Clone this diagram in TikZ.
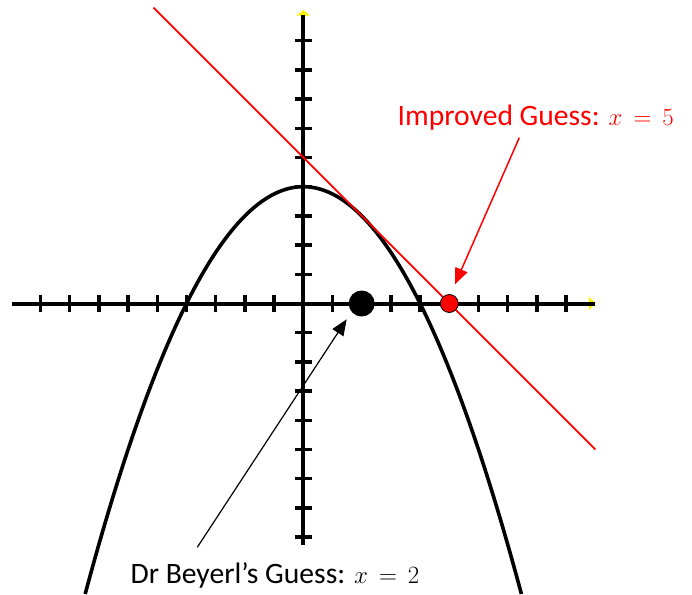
\documentclass[tikz,border=0pt]{standalone}
\usepackage{fontspec}
\setmainfont{Carlito}
\usetikzlibrary{arrows.meta}
\tikzset{
  axisline/.style={line width=4pt, black},
  tickmark/.style={line width=3.3pt, black},
  curveline/.style={line width=3.6pt, black},
  tangentline/.style={line width=1.8pt, red},
  tipmark/.style={fill=yellow, draw=none},
  labeltext/.style={inner sep=0pt, anchor=base west, font=\fontsize{29.6}{35}\selectfont},
  callout/.style={-{Triangle[length=16pt,width=13pt]}},
}
\begin{document}
\begin{tikzpicture}[x=29.2pt,y=29.2pt]
\useasboundingbox (-10.387,-9.949) rectangle (13.312,10.394);
% yellow arrow tips of the axes
\fill[tipmark] (9.78,0.23) -- (10.01,0) -- (9.78,-0.23) -- cycle;
\fill[tipmark] (-0.23,9.86) -- (0,10.05) -- (0.23,9.86) -- cycle;
% axes
\coordinate (xl) at (-9.98,0);
\coordinate (xr) at (10.0,0);
\coordinate (yb) at (0,-8.27);
\coordinate (yt) at (0,9.88);
\draw[axisline] (xl) -- (xr);
\draw[axisline] (yb) -- (yt);
% ticks
\foreach \i in {-9,...,-1,1,2,...,9}
  \draw[tickmark] (\i,-0.3) -- (\i,0.3);
\foreach \j in {-8,...,-1,1,2,...,9}
  \draw[tickmark] (-0.3,\j) -- (0.3,\j);
% parabola y = 4 - x^2/4
\draw[curveline] plot[domain=-7.47:7.47, samples=200, smooth] (\x,{4-\x*\x/4});
% tangent line y = 5 - x
\coordinate (ta) at (-5.13,10.13);
\coordinate (tb) at (10.0,-5.0);
\draw[tangentline] (ta) -- (tb);
% guesses
\node[circle, fill=black, minimum size=26pt, inner sep=0pt] (g1) at (2,0) {};
\node[circle, fill=red, draw=black, line width=0.8pt, minimum size=18pt, inner sep=0pt] (g2) at (5,0) {};
% labels
\node[labeltext, text=red] (lab2) at (3.226,6.113) {Improved Guess: $x\mkern3mu=\mkern3mu5$};
\node[labeltext, text=black] (lab1) at (-5.921,-9.582) {Dr Beyerl’s Guess: $x\mkern3mu=\mkern3mu2$};
% callout arrows
\coordinate (a2s) at (7.397,5.678);
\coordinate (a2e) at (5.195,0.658);
\coordinate (a1s) at (-3.630,-8.349);
\coordinate (a1e) at (1.486,-0.541);
\draw[callout, red, line width=1.5pt] (a2s) -- (a2e);
\draw[callout, black, line width=1.2pt] (a1s) -- (a1e);
\end{tikzpicture}
\end{document}
